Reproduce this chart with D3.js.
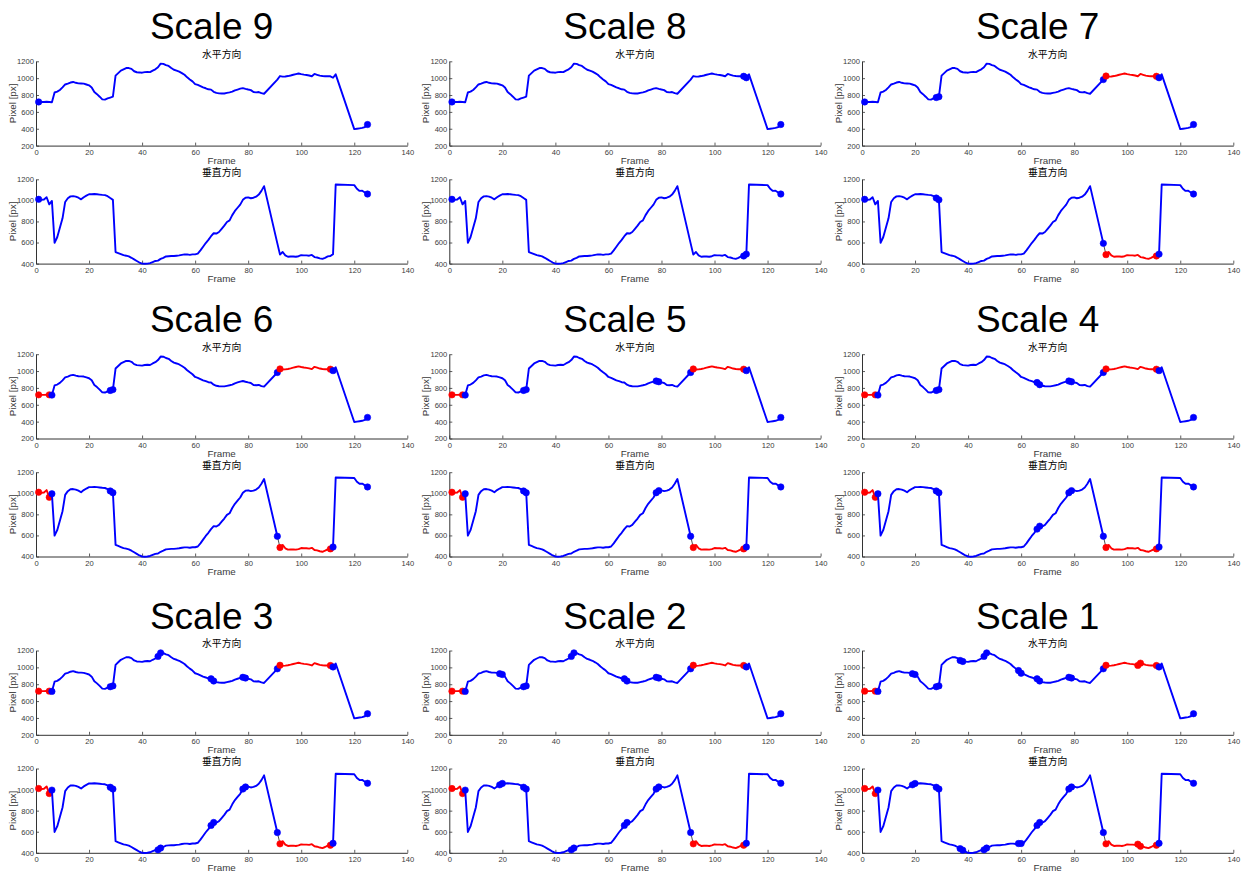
<!DOCTYPE html>
<html><head><meta charset="utf-8">
<script src="https://cdn.jsdelivr.net/npm/d3@7"></script>
<style>body{margin:0;background:#fff}svg{display:block}</style>
</head><body><svg id="c" width="1247" height="872"></svg>
<script>
// ---------- data ----------
const frames = [1,2,3,4,5,6,7,8,9,10,11,12,13,14,15,16,17,18,19,20,21,22,23,24,25,26,27,28,29,30,
  31,32,33,34,35,36,37,38,39,40,41,42,43,44,45,46,47,48,49,50,51,52,53,54,55,56,57,58,59,60,
  61,62,63,64,65,66,67,68,69,70,71,72,73,74,75,76,77,78,79,80,81,82,83,84,85,86,
  91,92,93,94,95,96,97,98,99,100,101,102,103,104,105,106,107,108,109,110,111,112,113,
  120,121,122,123,124,125];
const horizontal = [718,718,718,720,718,715,830,840,860,890,
  925,935,948,955,945,938,937,935,925,915,
  890,835,810,780,748,745,760,770,780,1030,
  1060,1090,1105,1120,1120,1110,1082,1070,1068,1065,
  1072,1075,1072,1090,1105,1130,1172,1170,1155,1145,
  1120,1100,1090,1078,1060,1040,1010,985,962,930,
  920,905,890,880,868,864,838,825,820,818,
  818,825,832,840,855,865,875,882,873,865,
  858,835,832,835,822,815,
  983,1025,1018,1020,1025,1032,1040,1048,1055,1048,
  1042,1038,1032,1023,1050,1040,1030,1025,1022,1022,
  1022,1005,1045,
  395,400,405,410,420,450];
const vertical = [1010,1005,1008,1030,962,995,598,650,740,830,
  985,1020,1038,1040,1035,1025,1010,1030,1045,1058,
  1058,1060,1058,1055,1052,1050,1040,1022,1005,510,
  500,490,480,475,468,455,440,425,410,400,
  398,400,405,415,425,428,445,455,468,470,
  472,472,475,478,483,487,487,483,488,488,
  495,525,560,595,625,660,688,685,700,730,
  760,795,810,860,900,930,960,1005,1025,1028,
  1020,1025,1035,1055,1090,1135,
  592,485,510,478,465,467,468,465,470,480,
  478,478,475,482,462,458,450,445,455,468,
  472,490,1150,
  1145,1110,1090,1092,1075,1060];

const scaleNames = ["Scale 9","Scale 8","Scale 7","Scale 6","Scale 5","Scale 4","Scale 3","Scale 2","Scale 1"];
// track segments per scale: [startFrame, endFrame, kind] (kind 0 = tracked, 1 = lost)
const segScale9 = [[1,125,0]];
const segScale8 = [[1,111,0],[112,125,0]];
const segScale7 = [[1,28,0],[29,91,0],[92,111,1],[112,125,0]];
const segScale6 = [[1,5,1],[6,28,0],[29,91,0],[92,111,1],[112,125,0]];
const segScale5 = [[1,5,1],[6,28,0],[29,78,0],[79,91,0],[92,111,1],[112,125,0]];
const segScale4 = [[1,5,1],[6,28,0],[29,66,0],[67,78,0],[79,91,0],[92,111,1],[112,125,0]];
const segScale3 = [[1,5,1],[6,28,0],[29,46,0],[47,66,0],[67,78,0],[79,91,0],[92,111,1],[112,125,0]];
const segScale2 = [[1,5,1],[6,19,0],[20,28,0],[29,46,0],[47,66,0],[67,78,0],[79,91,0],[92,111,1],[112,125,0]];
const segScale1 = [[1,5,1],[6,19,0],[20,28,0],[29,37,0],[38,46,0],[47,59,0],[60,66,0],[67,78,0],[79,91,0],[92,104,1],[105,111,1],[112,125,0]];
const segmentsList = [segScale9,segScale8,segScale7,segScale6,segScale5,segScale4,segScale3,segScale2,segScale1];

const xTicks = [0,20,40,60,80,100,120,140];
const hTicks = [200,400,600,800,1000,1200];
const vTicks = [400,600,800,1000,1200];
const hTitle = "水平方向";
const vTitle = "垂直方向";
const xLabel = "Frame";
const yLabel = "Pixel [px]";

// ---------- layout ----------
const colLeft = [36, 449.3, 862];
const plotW = 371.3;
const rowTop = [61.3, 354.2, 650.5];
const plotH = 84.3;
const vOffset = 118;
const kindColor = ["#0000ff", "#ff0000"];
const axisCol = "#333333";
const textCol = "#3a3a3a";

const svg = d3.select("#c");
const fontLatin = "'Liberation Sans', Arial, Helvetica, sans-serif";
const fontCJK = "'Noto Sans CJK SC', 'Noto Sans CJK JP', sans-serif";

const pts = frames.map((f,i)=>({f, h: horizontal[i], v: vertical[i]}));

function drawSubplot(g, left, top, key, domain, yTicks, title, segs) {
  const x = d3.scaleLinear().domain([0,140]).range([left, left+plotW]);
  const y = d3.scaleLinear().domain(domain).range([top+plotH, top]);

  // axes
  const xAxis = d3.axisBottom(x).tickValues(xTicks).tickFormat(d3.format("d")).tickSizeInner(-3).tickSizeOuter(0).tickPadding(4);
  const yAxis = d3.axisLeft(y).tickValues(yTicks).tickFormat(d3.format("d")).tickSizeInner(-3).tickSizeOuter(0).tickPadding(2);
  const gx = g.append("g").attr("transform", `translate(0,${top+plotH})`).call(xAxis);
  const gy = g.append("g").attr("transform", `translate(${left},0)`).call(yAxis);
  [gx, gy].forEach(a => {
    a.select(".domain").attr("stroke", axisCol).attr("stroke-width", 1);
    a.selectAll(".tick line").attr("stroke", axisCol).attr("stroke-width", 0.8);
    a.selectAll(".tick text").attr("fill", textCol).style("font-family", fontLatin).style("font-size", "7.6px");
  });

  // titles / labels
  g.append("text").attr("x", left + plotW/2).attr("y", top - 3.5)
    .attr("text-anchor","middle").style("font-family", fontCJK).style("font-size","9.8px")
    .attr("fill","#000").text(title);
  g.append("text").attr("x", left + plotW/2).attr("y", top + plotH + 18)
    .attr("text-anchor","middle").style("font-family", fontLatin).style("font-size","9.8px")
    .attr("fill", textCol).text(xLabel);
  g.append("text").attr("transform", `translate(${left-20.5},${top+plotH/2}) rotate(-90)`)
    .attr("text-anchor","middle").style("font-family", fontLatin).style("font-size","9.8px")
    .attr("fill", textCol).text(yLabel);

  const line = d3.line().x(d=>x(d.f)).y(d=>y(d[key]));
  const ptAt = fr => pts.find(p => p.f === fr);

  // thin connectors between consecutive segments
  for (let i=0;i<segs.length-1;i++){
    const a = ptAt(segs[i][1]), b = ptAt(segs[i+1][0]);
    g.append("line").attr("x1",x(a.f)).attr("y1",y(a[key])).attr("x2",x(b.f)).attr("y2",y(b[key]))
      .attr("stroke","#000").attr("stroke-width",0.7);
  }
  // segments
  segs.forEach(s => {
    const data = pts.filter(p => p.f >= s[0] && p.f <= s[1]);
    g.append("path").datum(data).attr("d", line).attr("fill","none")
      .attr("stroke", kindColor[s[2]]).attr("stroke-width", 1.9).attr("stroke-linejoin","round");
    [s[0], s[1]].forEach(fr => {
      const p = ptAt(fr);
      g.append("circle").attr("cx", x(p.f)).attr("cy", y(p[key])).attr("r", 3.2)
        .attr("fill", kindColor[s[2]]).attr("stroke", kindColor[s[2]]).attr("stroke-width", 0.6);
    });
  });
}

scaleNames.forEach((name, i) => {
  const r = Math.floor(i/3), c = i%3;
  const left = colLeft[c], top = rowTop[r];
  const g = svg.append("g");
  g.append("text").attr("x", left + plotW/2 - 10).attr("y", top - 22)
    .attr("text-anchor","middle").style("font-family", fontLatin).style("font-size","37px")
    .attr("fill","#000").text(name);
  drawSubplot(g, left, top, "h", [200,1200], hTicks, hTitle, segmentsList[i]);
  drawSubplot(g, left, top + vOffset, "v", [400,1200], vTicks, vTitle, segmentsList[i]);
});
</script>
</body></html>
